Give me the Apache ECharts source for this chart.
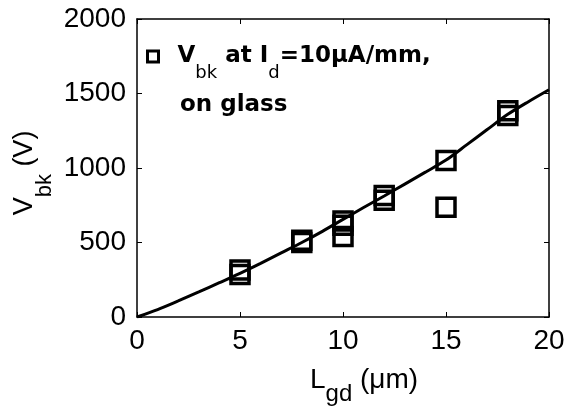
<!DOCTYPE html>
<html>
<head>
<meta charset="utf-8">
<script src="https://cdn.jsdelivr.net/npm/echarts@6/dist/echarts.min.js"></script>
<style>
  html, body { margin: 0; padding: 0; background: #fff; }
  #main { width: 581px; height: 409px; }
</style>
</head>
<body>
<div id="main"></div>
<script>
// measured breakdown voltages (several devices per Lgd)
var lgd = [5, 5, 8, 8, 10, 10, 10, 12, 12, 15, 15, 18, 18];
var vbk = [285, 315, 500, 515, 645, 615, 540, 815, 783, 1050, 736, 1385, 1353];
// fitted curve
var fitX = [0, 1, 2, 3, 4, 5, 6, 7, 8, 9, 10, 11, 12, 13, 14, 15, 16, 17, 18, 19, 20];
var fitY = [0, 50, 108, 168, 230, 293, 360, 430, 500, 575, 655, 735, 812, 892, 972, 1053, 1155, 1258, 1360, 1445, 1525];

var axisFont = 'Liberation Sans';
var boldFont = 'DejaVu Sans';

var pts = lgd.map(function (x, i) { return [x, vbk[i]]; });
var fit = fitX.map(function (x, i) { return [x, fitY[i]]; });

var chart = echarts.init(document.getElementById('main'));

var axisCommon = {
  type: 'value',
  axisLine: { show: true, onZero: false, lineStyle: { color: '#000', width: 1.5 } },
  axisTick: { show: true, inside: true, length: 5, lineStyle: { color: '#000', width: 1 } },
  splitLine: { show: false }
};
var plain = function (v) { return String(v); };

var option = {
  backgroundColor: '#fff',
  animation: false,
  grid: { left: 137, right: 32, top: 19, bottom: 92 },
  xAxis: [
    Object.assign({}, axisCommon, {
      min: 0, max: 20, interval: 5, position: 'bottom',
      axisLabel: { fontSize: 28, fontFamily: axisFont, color: '#000', margin: 10, formatter: plain }
    }),
    Object.assign({}, axisCommon, {
      min: 0, max: 20, interval: 5, position: 'top',
      axisLabel: { show: false }
    })
  ],
  yAxis: [
    Object.assign({}, axisCommon, {
      min: 0, max: 2000, interval: 500, position: 'left',
      axisLabel: { fontSize: 28, fontFamily: axisFont, color: '#000', margin: 11, formatter: plain }
    }),
    Object.assign({}, axisCommon, {
      min: 0, max: 2000, interval: 500, position: 'right',
      axisLabel: { show: false }
    })
  ],
  legend: {
    left: 146, top: 45, padding: 0,
    itemWidth: 11, itemHeight: 11,
    data: [{ name: 'vbk', icon: 'rect' }],
    itemStyle: { color: '#fff', borderColor: '#000', borderWidth: 3, opacity: 1 },
    formatter: function () {
      return '{v|V}{s|bk}{b| at I}{s|d}{b|=10μA/mm,}';
    },
    textStyle: {
      rich: {
        v: { fontSize: 23, fontWeight: 'bold', fontFamily: boldFont, color: '#000', padding: [0, 0, 0, 14] },
        b: { fontSize: 23, fontWeight: 'bold', fontFamily: boldFont, color: '#000' },
        s: { fontSize: 18, fontFamily: boldFont, color: '#000', padding: [34, 0, 0, 0] }
      }
    }
  },
  graphic: [
    {
      type: 'text', left: 180, top: 94,
      style: { text: 'on glass', font: 'bold 23px "DejaVu Sans"', fill: '#000' }
    },
    {
      type: 'text', x: 310, y: 380,
      style: {
        text: '{n|L}{s|gd}{n| (μm)}', align: 'left', verticalAlign: 'middle',
        rich: {
          n: { fontSize: 28, fontFamily: axisFont, fill: '#000' },
          s: { fontSize: 24, fontFamily: axisFont, fill: '#000', padding: [28, 0, 0, 0] }
        }
      }
    },
    {
      type: 'text', x: 25, y: 173, rotation: Math.PI / 2,
      style: {
        text: '{n|V}{s|bk}{n| (V)}', align: 'center', verticalAlign: 'middle',
        rich: {
          n: { fontSize: 27, fontFamily: axisFont, fill: '#000' },
          s: { fontSize: 22, fontFamily: axisFont, fill: '#000', padding: [40, 0, 0, 0] }
        }
      }
    }
  ],
  series: [
    {
      name: 'vbk', type: 'scatter', data: pts, z: 2,
      symbol: 'rect', symbolSize: 18,
      itemStyle: { color: 'transparent', borderColor: '#000', borderWidth: 3.5, opacity: 1 }
    },
    {
      name: 'fit', type: 'line', data: fit, z: 3,
      showSymbol: false, smooth: 0.3,
      lineStyle: { color: '#000', width: 3 }
    }
  ]
};

chart.setOption(option);
</script>
</body>
</html>
